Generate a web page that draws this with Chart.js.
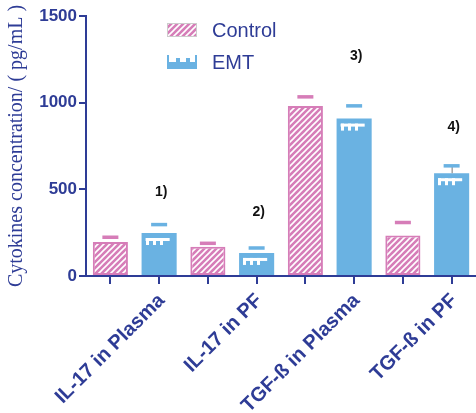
<!DOCTYPE html>
<html><head><meta charset="utf-8">
<script src="https://cdn.jsdelivr.net/npm/chart.js@4.4.0/dist/chart.umd.min.js"></script>
<style>html,body{margin:0;padding:0;background:#fff;}#wrap{width:476px;height:413px;}</style>
</head><body><div id="wrap"><canvas id="c" width="476" height="413"></canvas></div>
<script>
const categories = ["IL-17 in Plasma", "IL-17 in PF", "TGF-ß in Plasma", "TGF-ß in PF"];
const controlValues = [196, 169, 981, 233];
const controlErrors = [29, 21, 54, 77];
const emtValues = [248, 133, 908, 593];
const emtErrors = [50, 30, 75, 44];
const annotations = ["1)", "2)", "3)", "4)"];
const annotationValues = [485, 369, 1269, 860];
const seriesNames = ["Control", "EMT"];

const PINK = "#d67db8", BLUE = "#6ab2e2", AXIS = "#2e3c96";

function hatch() {
  const c = document.createElement("canvas"); c.width = 6; c.height = 6;
  const x = c.getContext("2d");
  x.fillStyle = PINK; x.fillRect(0,0,6,6);
  x.strokeStyle = "#fff"; x.lineWidth = 1.6;
  x.beginPath(); x.moveTo(-1,7); x.lineTo(7,-1); x.moveTo(-1,1); x.lineTo(1,-1); x.moveTo(5,7); x.lineTo(7,5); x.stroke();
  return x.createPattern(c, "repeat");
}
const ctx0 = document.getElementById("c").getContext("2d");
const pat = hatch();

function comb(ctx, left, top, w) {
  ctx.fillStyle = "#fff";
  const l = left + 4, r = left + w - 7;
  ctx.fillRect(l, top + 5, r - l, 3);
  const n = 4, step = (r - l - 3) / (n - 1);
  for (let i = 0; i < n - 1; i++) ctx.fillRect(Math.round(l + i * step), top + 5, 3, 7);
}

const extras = {
  id: "extras",
  afterDatasetsDraw(chart) {
    const ctx = chart.ctx, y = chart.scales.y;
    const errs = [controlErrors, emtErrors], vals = [controlValues, emtValues], cols = [PINK, BLUE];
    for (let d = 0; d < 2; d++) {
      const meta = chart.getDatasetMeta(d);
      meta.data.forEach((bar, i) => {
        const top = y.getPixelForValue(vals[d][i]);
        const cap = y.getPixelForValue(vals[d][i] + errs[d][i]);
        if (d === 1) {
          comb(ctx, bar.x - bar.width / 2, top, bar.width);
          if (i === 3) { ctx.strokeStyle = "#777"; ctx.lineWidth = 1; ctx.beginPath(); ctx.moveTo(bar.x + 0.5, cap); ctx.lineTo(bar.x + 0.5, top); ctx.stroke(); }
        }
        ctx.fillStyle = cols[d];
        ctx.fillRect(bar.x - 8, cap - 1.5, 16, 3.5);
        ctx.strokeStyle = AXIS; ctx.lineWidth = 2;
        ctx.beginPath(); ctx.moveTo(Math.round(bar.x), chart.chartArea.bottom); ctx.lineTo(Math.round(bar.x), chart.chartArea.bottom + 8); ctx.stroke();
      });
    }
    const m = chart.getDatasetMeta(1);
    ctx.fillStyle = "#111"; ctx.font = "bold 14px 'Liberation Sans', Arial, sans-serif";
    ctx.textAlign = "center"; ctx.textBaseline = "middle";
    annotations.forEach((t, i) => ctx.fillText(t, m.data[i].x + 2, y.getPixelForValue(annotationValues[i])));
    const lx = 167;
    const ly = [23, 55];
    ctx.fillStyle = pat; ctx.fillRect(lx, ly[0], 30, 14);
    ctx.strokeStyle = "#ccc"; ctx.lineWidth = 1; ctx.strokeRect(lx + 0.5, ly[0] + 0.5, 29, 13);
    ctx.fillStyle = BLUE; ctx.fillRect(lx, ly[1] + 7, 30, 7);
    ctx.fillRect(lx, ly[1], 2, 14); ctx.fillRect(lx + 9, ly[1] + 3, 4, 11); ctx.fillRect(lx + 19, ly[1] + 3, 4, 11); ctx.fillRect(lx + 28, ly[1], 2, 14);
    ctx.font = "20px 'Liberation Sans', Arial, sans-serif"; ctx.fillStyle = AXIS;
    ctx.textAlign = "left"; ctx.textBaseline = "middle";
    ctx.fillText(seriesNames[0], 212, ly[0] + 8);
    ctx.fillText(seriesNames[1], 212, ly[1] + 8);
  }
};

new Chart(ctx0, {
  type: "bar",
  data: {
    labels: categories,
    datasets: [
      { label: seriesNames[0], data: controlValues, backgroundColor: pat, borderColor: PINK, borderWidth: 2, borderSkipped: false },
      { label: seriesNames[1], data: emtValues, backgroundColor: BLUE, borderWidth: 0 }
    ]
  },
  options: {
    responsive: false, animation: false,
    layout: { padding: { top: 16, right: 0, left: 5, bottom: 0 } },
    plugins: { legend: { display: false }, tooltip: { enabled: false } },
    datasets: { bar: { categoryPercentage: 1.0, barPercentage: 0.72 } },
    scales: {
      x: {
        grid: { display: false, drawTicks: false },
        border: { display: true, color: AXIS, width: 2 },
        ticks: { color: AXIS, font: { family: "'Liberation Sans', Arial, sans-serif", size: 20, weight: "bold" },
                 maxRotation: 45, minRotation: 45, autoSkip: false, labelOffset: 27, padding: 13 },
        afterFit(s) { s.height = 137; }
      },
      y: {
        min: 0, max: 1500,
        grid: { display: true, drawOnChartArea: false, drawTicks: true, tickLength: 7, color: AXIS, lineWidth: 2 },
        border: { display: true, color: AXIS, width: 2 },
        ticks: { stepSize: 500, color: AXIS, padding: 2, callback: v => String(v),
                 font: { family: "'Liberation Sans', Arial, sans-serif", size: 17, weight: "bold" } },
        title: { display: true, text: "Cytokines concentration/ ( pg/mL )", color: AXIS, padding: 0,
                 font: { family: "'Liberation Serif', 'Times New Roman', serif", size: 20, weight: "normal" } },
        afterFit(s) { s.width = 81; }
      }
    }
  },
  plugins: [extras]
});
</script></body></html>
